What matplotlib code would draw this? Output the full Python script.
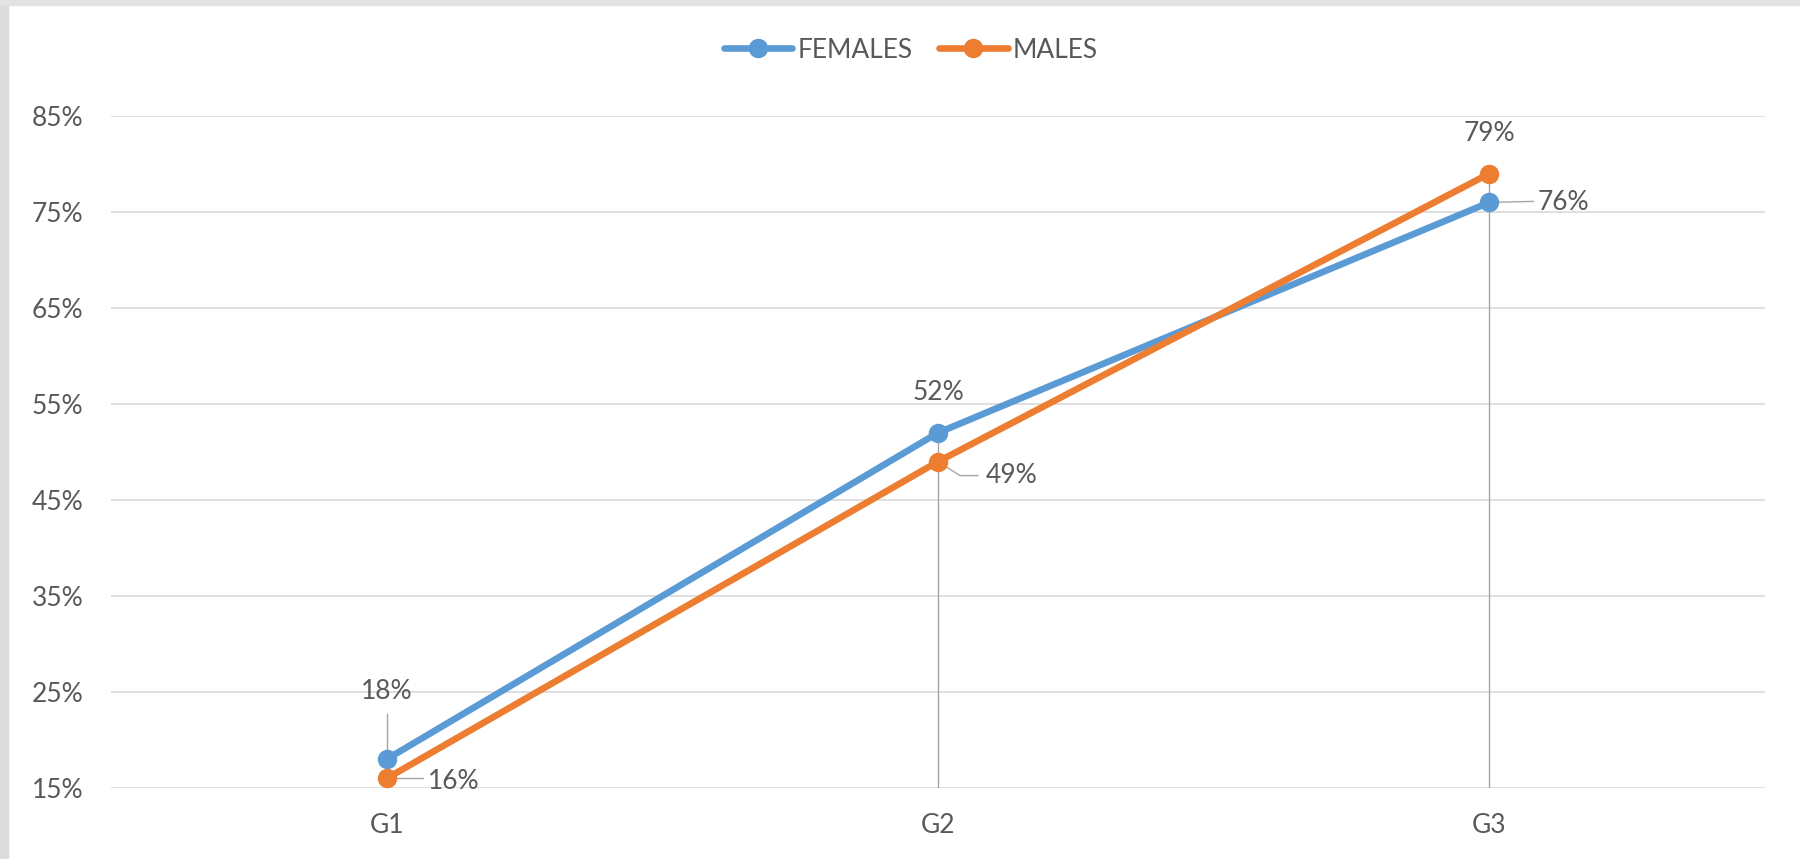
import matplotlib
matplotlib.use("Agg")
import matplotlib.pyplot as plt
from matplotlib.patches import Rectangle
import matplotlib.ticker as mticker

categories = ["G1", "G2", "G3"]
females = [0.18, 0.52, 0.76]
males = [0.16, 0.49, 0.79]
yticks = [0.15, 0.25, 0.35, 0.45, 0.55, 0.65, 0.75, 0.85]

BLUE = "#5B9BD5"
ORANGE = "#ED7D31"
TXT = "#595959"
GRID = "#D9D9D9"
LEAD = "#A6A6A6"
FS = 19

plt.rcParams['font.family'] = ['Lato', 'DejaVu Sans']

W, H = 1800, 859
fig = plt.figure(figsize=(W/100, H/100), dpi=100)
fig.patch.set_facecolor("white")

# outer frame (left and top bands)
fig.patches.append(Rectangle((0, 0), 8/W, 1, transform=fig.transFigure, color="#DCDCDC", zorder=0))
fig.patches.append(Rectangle((0, 1-5/H), 1, 5/H, transform=fig.transFigure, color="#E3E3E3", zorder=0))

left, right = 111/W, 1765/W
bottom, top = 1-788/H, 1-116/H
ax = fig.add_axes([left, bottom, right-left, top-bottom])
x = list(range(len(categories)))

ax.set_xlim(-0.5, 2.5)
ax.set_ylim(0.15, 0.85)
ax.set_yticks(yticks)
ax.yaxis.set_major_formatter(mticker.FuncFormatter(lambda v, p: f"{v*100:.0f}%"))
ax.set_xticks(x)
ax.set_xticklabels(categories)
ax.grid(axis="y", color=GRID, lw=1.2)
ax.set_axisbelow(True)
for s in ax.spines.values():
    s.set_visible(False)
ax.tick_params(length=0, labelsize=FS, colors=TXT)
ax.tick_params(axis="y", pad=20)
ax.tick_params(axis="x", pad=18)

# drop lines
for xi, f, m in zip(x, females, males):
    ax.plot([xi, xi], [0.15, max(f, m)], color=LEAD, lw=1.0, zorder=1)

ax.plot(x, females, color=BLUE, lw=4.8, marker="o", ms=13, label="FEMALES", zorder=3, solid_capstyle="round")
ax.plot(x, males, color=ORANGE, lw=4.8, marker="o", ms=13, label="MALES", zorder=3, solid_capstyle="round")

def lab(xi, v, dx, dy, ha, leader=None):
    ax.annotate(f"{v*100:.0f}%", (xi, v), xytext=(dx, dy), textcoords="offset pixels",
                ha=ha, va="center", fontsize=FS, color=TXT, zorder=5)
    if leader is not None:
        xs, ys = leader
        pix0 = ax.transData.transform((xi, v))
        inv = ax.transData.inverted()
        coords = [inv.transform((pix0[0] + a, pix0[1] + b)) for a, b in zip(xs, ys)]
        ax.plot([c[0] for c in coords], [c[1] for c in coords], color=LEAD, lw=1.0, zorder=2)

fig.canvas.draw()
# FEMALES labels
lab(x[0], females[0], 0, 68, "center", leader=([0, 0], [0, 45]))
lab(x[1], females[1], 0, 40, "center")
lab(x[2], females[2], 48, 0, "left", leader=([0, 44], [0, 1]))
# MALES labels
lab(x[0], males[0], 41, -3, "left", leader=([0, 36], [0, 0]))
lab(x[1], males[1], 48, -14, "left", leader=([0, 22, 40], [0, -14, -14]))
lab(x[2], males[2], 0, 40, "center")

leg = fig.legend(loc="center", bbox_to_anchor=(911/W, 1-50/H), ncol=2, frameon=False,
                 fontsize=FS, handlelength=2.6, columnspacing=1.0, handletextpad=0.2)
for t in leg.get_texts():
    t.set_color(TXT)

fig.savefig("out.png", dpi=100, facecolor="white")
